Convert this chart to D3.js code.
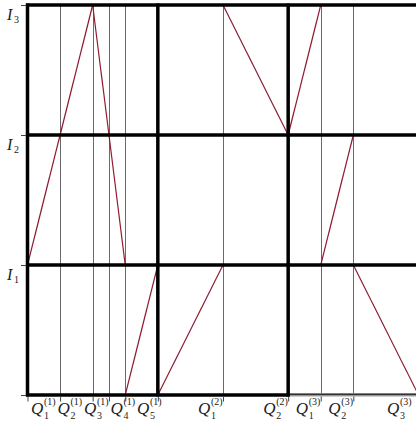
<!DOCTYPE html>
<html>
<head>
<meta charset="utf-8">
<script src="https://cdn.jsdelivr.net/npm/d3@7"></script>
<style>
  html, body { margin: 0; padding: 0; background: #fff; }
  svg { display: block; }
  text { font-family: "Liberation Serif", "DejaVu Serif", serif; font-style: italic; fill: #222; }
</style>
</head>
<body>
<svg id="chart" width="416" height="429"></svg>
<script>
// ---- data ----
const xTickValues = [0.25, 0.5, 0.625, 0.75, 1, 1.5, 2, 2.25, 2.5, 3];
const xTickSub   = ["1", "2", "3", "4", "5", "1", "2", "1", "2", "3"];
const xTickSup   = ["(1)", "(1)", "(1)", "(1)", "(1)", "(2)", "(2)", "(3)", "(3)", "(3)"];
const yTickValues = [1, 2, 3];
const yTickSub    = ["1", "2", "3"];
const panelBounds = [0, 1, 2, 3];
const levelBounds = [0, 1, 2, 3];
// line segments: start x, end x, start level, end level
const segX0 = [0,   0.5,  0.75, 1,   1.5, 2,   2.25, 2.5];
const segX1 = [0.5, 0.75, 1,    1.5, 2,   2.25, 2.5, 3];
const segY0 = [1,   3,    0,    0,   3,   2,   1,    1];
const segY1 = [3,   1,    1,    1,   2,   3,   2,    0];

// ---- layout ----
const svg = d3.select("#chart");
const x = d3.scaleLinear().domain([0, 3]).range([27.5, 418.5]);
const y = d3.scaleLinear().domain([0, 3]).range([395, 5]);

// thin vertical grid lines at ticks
svg.append("g").selectAll("line")
  .data(xTickValues.filter(v => !panelBounds.includes(v)))
  .join("line")
  .attr("x1", d => Math.round(x(d)) + 0.5).attr("x2", d => Math.round(x(d)) + 0.5)
  .attr("y1", y(3)).attr("y2", y(0))
  .attr("stroke", "#6a6a6a").attr("stroke-width", 1);

// red segments
svg.append("g").selectAll("line")
  .data(segX0.map((d, i) => i))
  .join("line")
  .attr("x1", i => x(segX0[i])).attr("x2", i => x(segX1[i]))
  .attr("y1", i => y(segY0[i])).attr("y2", i => y(segY1[i]))
  .attr("stroke", "#8e1b30").attr("stroke-width", 1.2);

// thick horizontal lines
svg.append("g").selectAll("line")
  .data(levelBounds)
  .join("line")
  .attr("x1", x(0) - 1.5).attr("x2", x(3))
  .attr("y1", d => y(d)).attr("y2", d => y(d))
  .attr("stroke", "#000").attr("stroke-width", 3.5);
// thinner bottom segment of last panel
svg.append("line")
  .attr("x1", x(2) + 1.5).attr("x2", x(3))
  .attr("y1", y(0)).attr("y2", y(0))
  .attr("stroke", "#fff").attr("stroke-width", 3.6);
svg.append("line")
  .attr("x1", x(2)).attr("x2", x(3))
  .attr("y1", y(0) - 0.5).attr("y2", y(0) - 0.5)
  .attr("stroke", "#333").attr("stroke-width", 2);

// thick vertical lines
svg.append("g").selectAll("line")
  .data(panelBounds.slice(0, 3))
  .join("line")
  .attr("x1", d => x(d)).attr("x2", d => x(d))
  .attr("y1", y(3) - 1.5).attr("y2", y(0) + 1.5)
  .attr("stroke", "#000").attr("stroke-width", 3.5);

// tick marks
const xAxis = d3.axisBottom(x).tickValues([0].concat(xTickValues)).tickSize(5).tickFormat("");
const gx = svg.append("g").attr("transform", `translate(0,${y(0) + 1.5})`).call(xAxis);
gx.select(".domain").remove();
gx.selectAll(".tick line").attr("stroke", "#444");
const yAxis = d3.axisLeft(y).tickValues([0].concat(yTickValues)).tickSize(5).tickFormat("");
const gy = svg.append("g").attr("transform", `translate(${x(0) - 1.5},0)`).call(yAxis);
gy.select(".domain").remove();
gy.selectAll(".tick line").attr("stroke", "#444");

// x labels with simple overlap relaxation
const labelW = 25, gap = 1.5;
let centers = xTickValues.map(v => x(v) - labelW / 2);
for (let it = 0; it < 200; it++) {
  for (let i = 0; i < centers.length - 1; i++) {
    const d = centers[i + 1] - centers[i];
    const need = labelW + gap;
    if (d < need) {
      const push = (need - d) / 2;
      centers[i] -= push; centers[i + 1] += push;
    }
  }
}
const xl = svg.append("g");
xTickValues.forEach((v, i) => {
  const cx = centers[i];
  const left = Math.min(cx - labelW / 2, 416 - 29);
  xl.append("text").attr("x", left).attr("y", 414).attr("font-size", 17).text("Q");
  xl.append("text").attr("x", left + 13).attr("y", 405).attr("font-size", 10).style("font-style", "normal").text(xTickSup[i]);
  xl.append("text").attr("x", left + 13).attr("y", 419).attr("font-size", 10).style("font-style", "normal").text(xTickSub[i]);
});

// y labels
const yl = svg.append("g");
yTickValues.forEach((v, i) => {
  const yy = y(v) + 15;
  yl.append("text").attr("x", 7).attr("y", yy).attr("font-size", 16).text("I");
  yl.append("text").attr("x", 14).attr("y", yy + 3).attr("font-size", 10).style("font-style", "normal").text(yTickSub[i]);
});
</script>
</body>
</html>
